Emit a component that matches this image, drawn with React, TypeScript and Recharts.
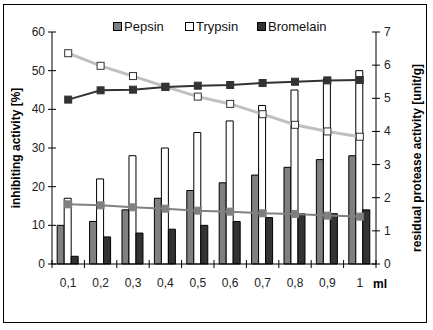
import React from 'react';
import { ComposedChart, Bar, Line, XAxis, YAxis } from 'recharts';

const categories = ['0,1', '0,2', '0,3', '0,4', '0,5', '0,6', '0,7', '0,8', '0,9', '1'];
const pepsinInhibition = [10, 11, 14, 17, 19, 21, 23, 25, 27, 28];
const trypsinInhibition = [17, 22, 28, 30, 34, 37, 41, 45, 48, 50];
const bromelainInhibition = [2, 7, 8, 9, 10, 11, 12, 13, 13, 14];
const pepsinResidual = [1.8, 1.77, 1.71, 1.67, 1.61, 1.58, 1.53, 1.51, 1.46, 1.43];
const trypsinResidual = [6.36, 5.98, 5.67, 5.35, 5.05, 4.83, 4.52, 4.2, 4.0, 3.84];
const bromelainResidual = [4.96, 5.24, 5.26, 5.34, 5.38, 5.4, 5.46, 5.5, 5.54, 5.55];
const leftTicks = [0, 10, 20, 30, 40, 50, 60];
const rightTicks = [0, 1, 2, 3, 4, 5, 6, 7];

const data = categories.map((c, i) => ({
  cat: c,
  pepsin: pepsinInhibition[i],
  trypsin: trypsinInhibition[i],
  bromelain: bromelainInhibition[i],
  pepsinR: pepsinResidual[i],
  trypsinR: trypsinResidual[i],
  bromelainR: bromelainResidual[i],
}));

const W = 433;
const H = 330;
const LEFT_W = 52;
const RIGHT_W = 57;
const TOP = 32;
const BOTTOM = 66;
const plotW = W - LEFT_W - RIGHT_W;
const band = plotW / categories.length;
const FONT = 'Liberation Sans, Arial, sans-serif';

const XTick = (props: any) => {
  const { x, y, payload, index } = props;
  const axisY = H - BOTTOM;
  const lx = x - band / 2;
  return (
    <g>
      <line x1={lx} x2={lx} y1={axisY - 4} y2={axisY + 4} stroke="#000" />
      {index === categories.length - 1 && (
        <line x1={x + band / 2} x2={x + band / 2} y1={axisY - 4} y2={axisY + 4} stroke="#000" />
      )}
      <text x={x} y={axisY + 23} textAnchor="middle" fontSize={12} fontFamily={FONT} fill="#222">
        {payload.value}
      </text>
    </g>
  );
};

const LeftTick = (props: any) => {
  const { y, payload } = props;
  const ax = LEFT_W;
  return (
    <g>
      <line x1={ax - 4} x2={ax + 4} y1={y} y2={y} stroke="#000" />
      <text x={ax - 7} y={y + 4} textAnchor="end" fontSize={12} fontFamily={FONT} fill="#222">
        {payload.value}
      </text>
    </g>
  );
};

const RightTick = (props: any) => {
  const { y, payload } = props;
  const ax = W - RIGHT_W;
  return (
    <g>
      <line x1={ax - 4} x2={ax + 4} y1={y} y2={y} stroke="#000" />
      <text x={ax + 8} y={y + 4} textAnchor="start" fontSize={12} fontFamily={FONT} fill="#222">
        {payload.value}
      </text>
    </g>
  );
};

const makeDot = (fill: string, stroke: string) => (props: any) => {
  const { cx, cy, index } = props;
  if (cx == null || cy == null) return <g key={index} />;
  return <rect key={index} x={cx - 3.5} y={cy - 3.5} width={7} height={7} fill={fill} stroke={stroke} strokeWidth={1} />;
};

const legendItems = [
  { name: 'Pepsin', color: '#808080', left: 113 },
  { name: 'Trypsin', color: '#ffffff', left: 185 },
  { name: 'Bromelain', color: '#333333', left: 257 },
];

export default function App() {
  return (
    <div style={{ position: 'absolute', left: 0, top: 0, width: W, height: H, background: '#fff' }}>
      <div
        style={{
          position: 'absolute',
          left: 3,
          top: 4,
          width: 424,
          height: 319,
          border: '1px solid #000',
          boxSizing: 'border-box',
        }}
      />
      <ComposedChart
        width={W}
        height={H}
        data={data}
        margin={{ top: TOP, right: 0, bottom: 0, left: 0 }}
        barCategoryGap="16%"
        barGap={0}
        style={{ position: 'absolute', left: 0, top: 0 }}
      >
        <XAxis
          dataKey="cat"
          height={BOTTOM}
          axisLine={{ stroke: '#000' }}
          tickLine={false}
          tick={<XTick />}
          interval={0}
        />
        <YAxis
          yAxisId="left"
          orientation="left"
          width={LEFT_W}
          domain={[0, 60]}
          ticks={leftTicks}
          axisLine={{ stroke: '#000' }}
          tickLine={false}
          tick={<LeftTick />}
          interval={0}
        />
        <YAxis
          yAxisId="right"
          orientation="right"
          width={RIGHT_W}
          domain={[0, 7]}
          ticks={rightTicks}
          axisLine={{ stroke: '#000' }}
          tickLine={false}
          tick={<RightTick />}
          interval={0}
        />
        <Bar yAxisId="left" dataKey="pepsin" fill="#808080" stroke="#000" strokeWidth={1} isAnimationActive={false} />
        <Bar yAxisId="left" dataKey="trypsin" fill="#ffffff" stroke="#000" strokeWidth={1} isAnimationActive={false} />
        <Bar yAxisId="left" dataKey="bromelain" fill="#333333" stroke="#000" strokeWidth={1} isAnimationActive={false} />
        <Line
          yAxisId="right"
          dataKey="trypsinR"
          stroke="#c0c0c0"
          strokeWidth={3}
          dot={makeDot('#ffffff', '#333')}
          isAnimationActive={false}
        />
        <Line
          yAxisId="right"
          dataKey="pepsinR"
          stroke="#808080"
          strokeWidth={2}
          dot={makeDot('#808080', '#808080')}
          isAnimationActive={false}
        />
        <Line
          yAxisId="right"
          dataKey="bromelainR"
          stroke="#333333"
          strokeWidth={2}
          dot={makeDot('#333333', '#333333')}
          isAnimationActive={false}
        />
      </ComposedChart>
      {legendItems.map((it) => (
        <div
          key={it.name}
          style={{
            position: 'absolute',
            left: it.left,
            top: 19,
            display: 'flex',
            alignItems: 'center',
            fontFamily: FONT,
            fontSize: 13,
            color: '#111',
            whiteSpace: 'nowrap',
          }}
        >
          <span
            style={{
              display: 'inline-block',
              width: 7,
              height: 7,
              background: it.color,
              border: '1px solid #000',
              marginRight: 2,
            }}
          />
          {it.name}
        </div>
      ))}
      <div
        style={{
          position: 'absolute',
          left: 16,
          top: 148,
          transform: 'translate(-50%, -50%) rotate(-90deg)',
          fontFamily: FONT,
          fontSize: 12,
          fontWeight: 'bold',
          whiteSpace: 'nowrap',
          color: '#000',
        }}
      >
        inhibiting activity [%]
      </div>
      <div
        style={{
          position: 'absolute',
          left: 417,
          top: 158,
          transform: 'translate(-50%, -50%) rotate(-90deg)',
          fontFamily: FONT,
          fontSize: 12,
          fontWeight: 'bold',
          whiteSpace: 'nowrap',
          color: '#000',
        }}
      >
        residual protease activity [unit/g]
      </div>
      <div
        style={{
          position: 'absolute',
          left: 373,
          top: 277,
          fontFamily: FONT,
          fontSize: 12,
          fontWeight: 'bold',
          color: '#000',
        }}
      >
        ml
      </div>
    </div>
  );
}
